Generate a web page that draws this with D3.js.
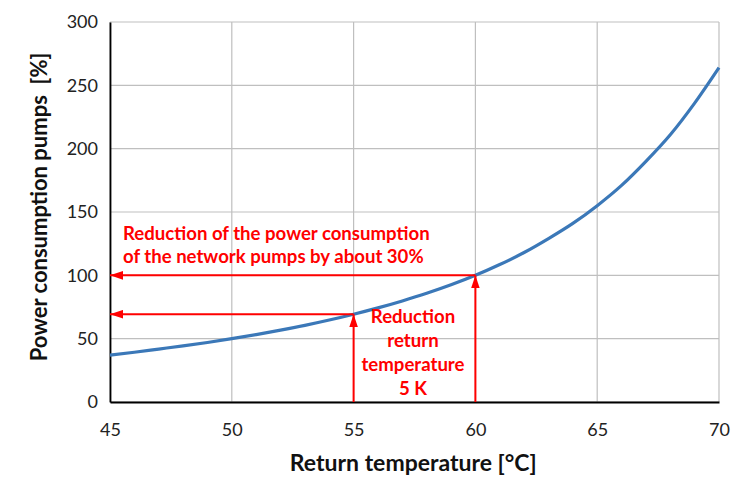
<!DOCTYPE html>
<html>
<head>
<meta charset="utf-8">
<script src="https://cdn.jsdelivr.net/npm/d3@7"></script>
<style>
  body { margin: 0; background: #fff; }
  svg { font-family: Lato, "Open Sans", sans-serif; }
</style>
</head>
<body>
<div id="chart"></div>
<script>
// return temperature [°C] and relative pump power [%]
const temps = [45, 46, 47, 48, 49, 50, 51, 52, 53, 54, 55, 56, 57, 58, 59, 60, 61, 62, 63, 64, 65, 66, 67, 68, 69, 70];
const power = [37, 39.3, 41.8, 44.3, 47, 50, 53.2, 56.7, 60.5, 64.7, 69.3, 74.3, 79.8, 85.8, 92.5, 100, 108.5, 118, 129, 141, 155, 171, 190, 211, 236, 264];

const xTicks = [45, 50, 55, 60, 65, 70];
const yTicks = [0, 50, 100, 150, 200, 250, 300];

// annotation arrows: [x1, y1, x2, y2] in data units, head at (x2, y2)
const arrows = [
  [60, 100, 45, 100],
  [55, 69.3, 45, 69.3],
  [55, 0, 55, 69.3],
  [60, 0, 60, 100]
];
const noteTop = ["Reduction of the power consumption", "of the network pumps by about 30%"];
const noteRight = ["Reduction", "return", "temperature", "5 K"];

const width = 750, height = 500;
const margin = { top: 22, right: 31, bottom: 98, left: 110 };
const w = width - margin.left - margin.right;
const h = height - margin.top - margin.bottom;

const svg = d3.select("#chart").append("svg")
  .attr("width", width)
  .attr("height", height);

const defs = svg.append("defs");
defs.append("marker")
  .attr("id", "head")
  .attr("viewBox", "0 0 12 8")
  .attr("refX", 12)
  .attr("refY", 4)
  .attr("markerUnits", "userSpaceOnUse")
  .attr("markerWidth", 13)
  .attr("markerHeight", 9)
  .attr("orient", "auto")
  .append("path")
  .attr("d", "M0,0 L12,4 L0,8 Z")
  .attr("fill", "#ff0000");

const g = svg.append("g")
  .attr("transform", `translate(${margin.left},${margin.top})`);

const x = d3.scaleLinear().domain([45, 70]).range([0, w]);
const y = d3.scaleLinear().domain([0, 300]).range([h, 0]);

// grid
g.append("g")
  .selectAll("line.gx")
  .data(xTicks)
  .join("line")
  .attr("x1", d => x(d)).attr("x2", d => x(d))
  .attr("y1", 0).attr("y2", h)
  .attr("stroke", "#bfbfbf").attr("stroke-width", 1.2);

g.append("g")
  .selectAll("line.gy")
  .data(yTicks)
  .join("line")
  .attr("x1", 0).attr("x2", w)
  .attr("y1", d => y(d)).attr("y2", d => y(d))
  .attr("stroke", "#bfbfbf").attr("stroke-width", 1.2);

// axes
const xAxis = g.append("g")
  .attr("transform", `translate(0,${h})`)
  .call(d3.axisBottom(x).tickValues(xTicks).tickSize(0).tickPadding(21));
const yAxis = g.append("g")
  .call(d3.axisLeft(y).tickValues(yTicks).tickSize(0).tickPadding(12));

[xAxis, yAxis].forEach(a => {
  a.select(".domain").attr("stroke", "#000").attr("stroke-width", 1.8);
  a.selectAll("text")
    .attr("font-family", "Lato, sans-serif")
    .attr("font-size", 18)
    .attr("fill", "#222");
});

// curve
const line = d3.line()
  .x((d, i) => x(temps[i]))
  .y(d => y(d))
  .curve(d3.curveMonotoneX);

g.append("path")
  .datum(power)
  .attr("d", line)
  .attr("fill", "none")
  .attr("stroke", "#3b78b8")
  .attr("stroke-width", 3.2);

// red arrows
g.append("g")
  .selectAll("line")
  .data(arrows)
  .join("line")
  .attr("x1", d => x(d[0])).attr("y1", d => y(d[1]))
  .attr("x2", d => x(d[2])).attr("y2", d => y(d[3]))
  .attr("stroke", "#ff0000")
  .attr("stroke-width", 2)
  .attr("marker-end", "url(#head)");

// notes
g.append("text")
  .attr("y", 218)
  .attr("fill", "#ff0000")
  .attr("font-weight", "bold")
  .attr("font-size", 18.6)
  .selectAll("tspan")
  .data(noteTop)
  .join("tspan")
  .attr("x", 13)
  .attr("dy", (d, i) => i ? 23 : 0)
  .text(d => d);

g.append("text")
  .attr("y", 301)
  .attr("fill", "#ff0000")
  .attr("font-weight", "bold")
  .attr("font-size", 18.6)
  .attr("text-anchor", "middle")
  .selectAll("tspan")
  .data(noteRight)
  .join("tspan")
  .attr("x", 303)
  .attr("dy", (d, i) => i ? 24 : 0)
  .text(d => d);

// axis titles
svg.append("text")
  .attr("x", margin.left + x(57.45))
  .attr("y", 471)
  .attr("text-anchor", "middle")
  .attr("font-weight", "bold")
  .attr("font-size", 23)
  .attr("fill", "#111")
  .text("Return temperature [°C]");

svg.append("text")
  .attr("transform", "translate(47,207) rotate(-90)")
  .attr("text-anchor", "middle")
  .attr("font-weight", "bold")
  .attr("font-size", 22)
  .attr("fill", "#111")
  .attr("xml:space", "preserve")
  .style("white-space", "pre")
  .text("Power consumption pumps  [%]");
</script>
</body>
</html>
